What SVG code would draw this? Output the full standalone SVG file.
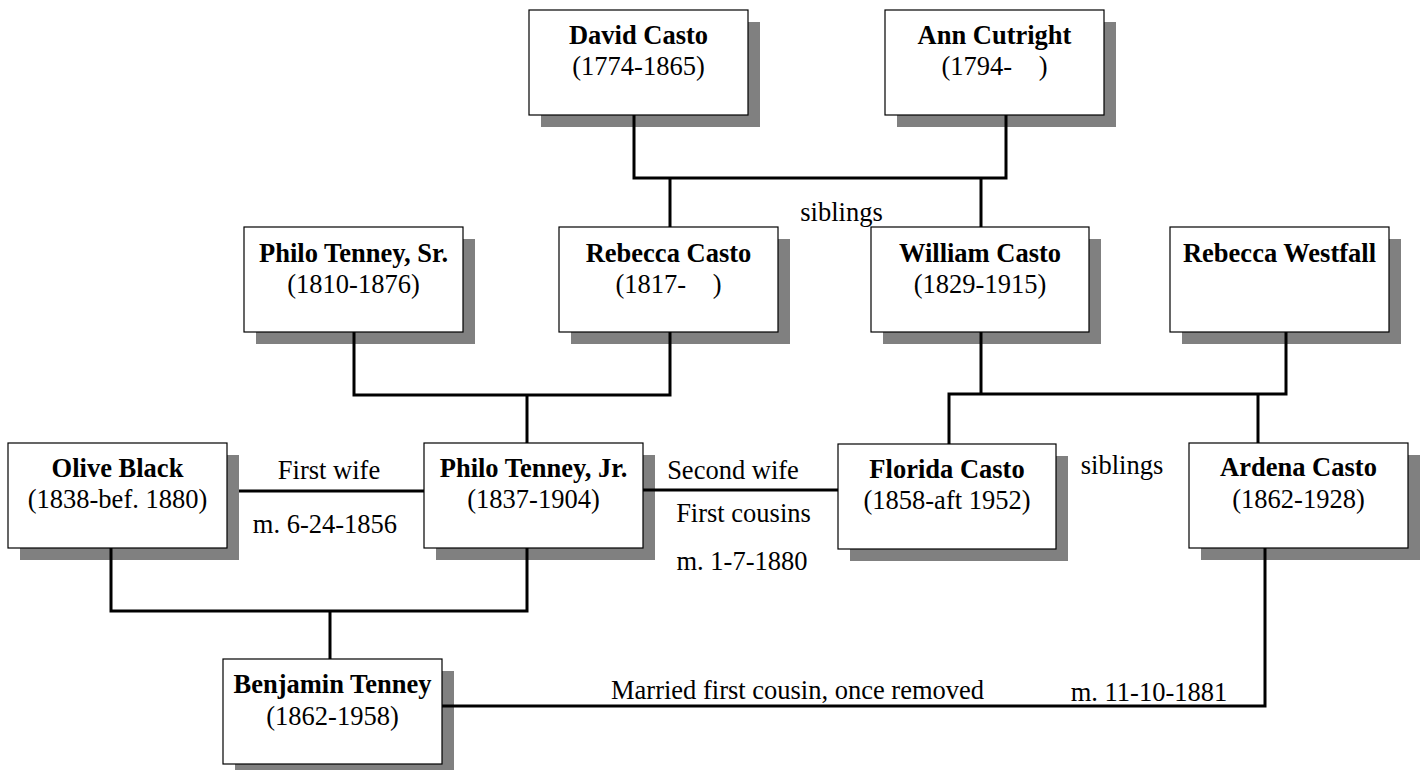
<svg xmlns="http://www.w3.org/2000/svg" width="1420" height="770" viewBox="0 0 1420 770" font-family="'Liberation Serif', 'Times New Roman', serif">
<style>
.sh{fill:#808080;stroke:none}
.bx{fill:#fff;stroke:#000;stroke-width:1.2}
text{font-family:'Liberation Serif','Times New Roman',serif;font-size:26.5px;fill:#000;text-anchor:middle}
.nm{font-weight:bold}
.st{text-anchor:start}
.cn{fill:none;stroke:#000;stroke-width:3;stroke-linejoin:miter;stroke-linecap:butt}
</style>
<rect width="1420" height="770" fill="#fff"/>
<g id="david">
<rect class="sh" x="541" y="22" width="219" height="105"/>
<rect class="bx" x="529" y="10" width="219" height="105"/>
<text class="nm" x="638.5" y="44">David Casto</text>
<text x="638.5" y="75">(1774-1865)</text>
</g>
<g id="ann">
<rect class="sh" x="897" y="22" width="219" height="105"/>
<rect class="bx" x="885" y="10" width="219" height="105"/>
<text class="nm" x="994.5" y="44">Ann Cutright</text>
<text x="994.5" y="75" xml:space="preserve">(1794-    )</text>
</g>
<g id="philo-sr">
<rect class="sh" x="256" y="239" width="219" height="105"/>
<rect class="bx" x="244" y="227" width="219" height="105"/>
<text class="nm" x="353.5" y="262">Philo Tenney, Sr.</text>
<text x="353.5" y="293">(1810-1876)</text>
</g>
<g id="rebecca-casto">
<rect class="sh" x="571" y="239" width="219" height="105"/>
<rect class="bx" x="559" y="227" width="219" height="105"/>
<text class="nm" x="668.5" y="262">Rebecca Casto</text>
<text x="668.5" y="293" xml:space="preserve">(1817-    )</text>
</g>
<g id="william">
<rect class="sh" x="883" y="239" width="218" height="105"/>
<rect class="bx" x="871" y="227" width="218" height="105"/>
<text class="nm" x="980" y="262">William Casto</text>
<text x="980" y="293">(1829-1915)</text>
</g>
<g id="westfall">
<rect class="sh" x="1182" y="239" width="219" height="105"/>
<rect class="bx" x="1170" y="227" width="219" height="105"/>
<text class="nm" x="1279.5" y="262">Rebecca Westfall</text>
</g>
<g id="olive">
<rect class="sh" x="20" y="455" width="219" height="105"/>
<rect class="bx" x="8" y="443" width="219" height="105"/>
<text class="nm" x="117.5" y="477">Olive Black</text>
<text x="117.5" y="508">(1838-bef. 1880)</text>
</g>
<g id="philo-jr">
<rect class="sh" x="436" y="455" width="219" height="105"/>
<rect class="bx" x="424" y="443" width="219" height="105"/>
<text class="nm" x="533.5" y="477">Philo Tenney, Jr.</text>
<text x="533.5" y="508">(1837-1904)</text>
</g>
<g id="florida">
<rect class="sh" x="850" y="456" width="218" height="105"/>
<rect class="bx" x="838" y="444" width="218" height="105"/>
<text class="nm" x="947" y="478">Florida Casto</text>
<text x="947" y="509">(1858-aft 1952)</text>
</g>
<g id="ardena">
<rect class="sh" x="1201" y="455" width="219" height="105"/>
<rect class="bx" x="1189" y="443" width="219" height="105"/>
<text class="nm" x="1298.5" y="476">Ardena Casto</text>
<text x="1298.5" y="508">(1862-1928)</text>
</g>
<g id="benjamin">
<rect class="sh" x="235" y="671" width="219" height="105"/>
<rect class="bx" x="223" y="659" width="219" height="105"/>
<text class="nm" x="332.5" y="693">Benjamin Tenney</text>
<text x="332.5" y="725">(1862-1958)</text>
</g>
<g id="connectors">
<path class="cn" d="M634,115 V178 H1006 V115"/>
<path class="cn" d="M670,178 V227"/>
<path class="cn" d="M981,178 V227"/>
<path class="cn" d="M354,332 V395 H670 V332"/>
<path class="cn" d="M527,395 V443"/>
<path class="cn" d="M981,332 V394"/>
<path class="cn" d="M949,444 V394 H1286 V332"/>
<path class="cn" d="M1258,394 V443"/>
<path class="cn" d="M239,491 H424"/>
<path class="cn" d="M643,490 H838"/>
<path class="cn" d="M111,548 V611 H527 V548"/>
<path class="cn" d="M330,611 V659"/>
<path class="cn" d="M442,706 H1265 V548"/>
</g>
<g id="labels">
<text x="841.5" y="221">siblings</text>
<text x="329" y="479">First wife</text>
<text x="325" y="533">m. 6-24-1856</text>
<text x="733" y="479">Second wife</text>
<text x="743.5" y="522">First cousins</text>
<text x="742" y="570">m. 1-7-1880</text>
<text x="1122" y="474">siblings</text>
<text class="st" x="611" y="699">Married first cousin, once removed</text>
<text x="1149" y="701">m. 11-10-1881</text>
</g>
</svg>
